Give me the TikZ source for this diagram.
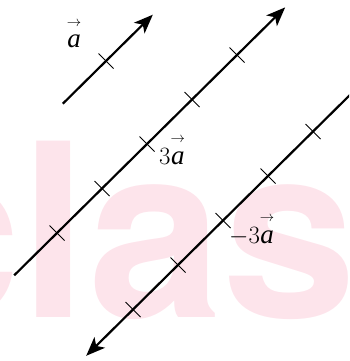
\documentclass[tikz,border=0pt]{standalone}
\usepackage{amsmath}
\usepackage{fontspec}
\setmainfont{Liberation Serif}
\newfontfamily\wmfont{texgyreheros-bold.otf}
\usetikzlibrary{arrows.meta}
\definecolor{wmpink}{RGB}{253,228,235}
\newcommand{\vecsym}[1]{\ensuremath{\overset{\raisebox{4pt}{$\scriptscriptstyle\rightarrow$}}{\mathit{#1}}}}

\begin{document}
\begin{tikzpicture}[x = {(1pt,0pt)},
  y = {(0pt,-1pt)},
  vecline/.style = {->, >={Stealth[length=19pt,width=15pt,inset=5pt]}, line width=2.2pt},
  tickmark/.style = {line width=0.9pt},
  veclabel/.style = {inner sep=0pt, font=\fontsize{27}{30}\selectfont}]

  % step along the lines and half tick length
  \def\dx{45}
  \def\dy{44.5}
  \def\tl{7.5}

  \useasboundingbox (0,0) rectangle (349,361);
  \clip (0,0) rectangle (349,361);

  % watermark
  \node[anchor=base west, inner sep=0pt, text=wmpink,
  font=\wmfont\fontsize{242}{242}\selectfont] (wm) at (-114,317) {clas};

  % vector a
  \coordinate (a0) at (61+\dx*0.04, 105.5-\dy*0.04);
  \coordinate (a1) at (61+\dx*2.04, 105.5-\dy*2.04);
  \draw[vecline] (a0) -- (a1);
  \foreach \k in {1}
  \draw[tickmark] (61+\dx*\k-\tl, 105.5-\dy*\k-\tl)
  -- (61+\dx*\k+\tl, 105.5-\dy*\k+\tl);

  % vector 3a
  \coordinate (b0) at (12+\dx*0.05, 277.5-\dy*0.05);
  \coordinate (b1) at (12+\dx*6.07, 277.5-\dy*6.07);
  \draw[vecline] (b0) -- (b1);
  \foreach \k in {1,...,5}
  \draw[tickmark] (12+\dx*\k-\tl, 277.5-\dy*\k-\tl)
  -- (12+\dx*\k+\tl, 277.5-\dy*\k+\tl);

  % vector -3a
  \coordinate (c0) at (88+\dx*6.2, 354-\dy*6.2);
  \coordinate (c1) at (88-\dx*0.04, 354+\dy*0.04);
  \draw[vecline] (c0) -- (c1);
  \foreach \k in {1,...,5}
  \draw[tickmark] (88+\dx*\k-\tl, 354-\dy*\k-\tl)
  -- (88+\dx*\k+\tl, 354-\dy*\k+\tl);

  % labels
  \node[veclabel, anchor=base] (la) at (74,48) {\vecsym{a}};
  \node[veclabel, anchor=base west] (l3a) at (159,164) {$3\vecsym{a}$};
  \node[veclabel, anchor=base west] (lm3a) at (229,243) {$-3\vecsym{a}$};

\end{tikzpicture}
\end{document}
